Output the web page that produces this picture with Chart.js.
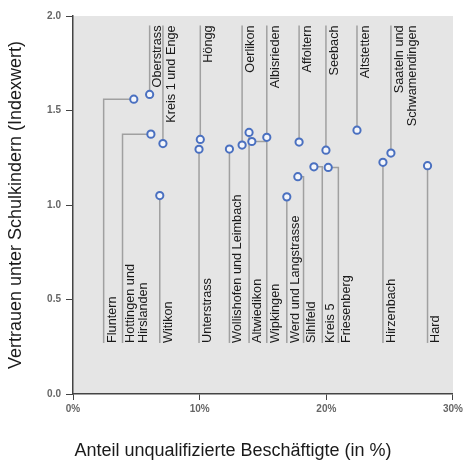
<!DOCTYPE html>
<html>
<head>
<meta charset="utf-8">
<script src="https://cdn.jsdelivr.net/npm/chart.js@4/dist/chart.umd.min.js"></script>
<style>
  html, body { margin: 0; padding: 0; background: #fff; }
  #wrap { width: 466px; height: 463px; }
</style>
</head>
<body>
<div id="wrap"><canvas id="myChart"></canvas></div>
<script>
// Stadtkreise / Quartiere
var names = ['Fluntern', 'Hottingen und\nHirslanden', 'Oberstrass', 'Kreis 1 und Enge', 'Witikon',
  'Höngg', 'Unterstrass', 'Wollishofen und Leimbach', 'Oerlikon', 'Altwiedikon', 'Wipkingen',
  'Albisrieden', 'Werd und Langstrasse', 'Affoltern', 'Sihlfeld', 'Kreis 5', 'Seebach',
  'Friesenberg', 'Altstetten', 'Hirzenbach', 'Saateln und\nSchwamendingen', 'Hard'];
// Anteil unqualifizierte Beschäftigte (in %)
var shareUnskilled = [4.8, 6.15, 6.05, 7.1, 6.85,
  10.05, 9.95, 12.35, 13.35, 13.9, 14.12,
  15.3, 16.88, 17.85, 17.75, 19.02, 19.97,
  20.15, 22.42, 24.47, 25.1, 27.99];
// Vertrauen unter Schulkindern (Indexwert)
var trustIndex = [1.56, 1.375, 1.585, 1.325, 1.05,
  1.347, 1.295, 1.296, 1.317, 1.384, 1.336,
  1.358, 1.043, 1.333, 1.15, 1.202, 1.29,
  1.199, 1.396, 1.226, 1.275, 1.208];
// where the label sits: above or below the cloud
var labelSide = ['bottom', 'bottom', 'top', 'top', 'bottom',
  'top', 'bottom', 'bottom', 'top', 'bottom', 'bottom',
  'top', 'bottom', 'top', 'bottom', 'bottom', 'top',
  'bottom', 'top', 'bottom', 'top', 'bottom'];
// x (in %) of the leader line when it is shifted away from the point
var leaderX = [2.42, 3.91, null, null, null,
  null, null, null, null, null, 15.3,
  null, null, null, 18.2, 19.68, null,
  20.95, null, null, null, null];
var labelTopY = 1.95;
var labelBottomY = 0.27;
var xTitle = 'Anteil unqualifizierte Beschäftigte (in %)';
var yTitle = 'Vertrauen unter Schulkindern (Indexwert)';

var bgPlugin = {
  id: 'bg',
  beforeDraw: function (chart) {
    var a = chart.chartArea, ctx = chart.ctx;
    ctx.save();
    ctx.fillStyle = '#e5e5e5';
    ctx.fillRect(a.left, a.top, a.right - a.left, a.bottom - a.top);
    ctx.restore();
  },
  afterDraw: function (chart) {
    // x title is centred on the whole figure, not on the plot area
    var ctx = chart.ctx;
    ctx.save();
    ctx.fillStyle = '#1a1a1a';
    ctx.font = '18px "Liberation Sans", Arial, sans-serif';
    ctx.textAlign = 'center';
    ctx.textBaseline = 'middle';
    ctx.fillText(xTitle, chart.width / 2, 451);
    ctx.restore();
  }
};

var leaderPlugin = {
  id: 'leaders',
  beforeDatasetsDraw: function (chart) {
    var ctx = chart.ctx, x = chart.scales.x, y = chart.scales.y;
    var yTop = y.getPixelForValue(labelTopY), yBot = y.getPixelForValue(labelBottomY);
    ctx.save();
    names.forEach(function (n, i) {
      var px = x.getPixelForValue(shareUnskilled[i]);
      var py = y.getPixelForValue(trustIndex[i]);
      var lx = x.getPixelForValue(leaderX[i] != null ? leaderX[i] : shareUnskilled[i]);
      var top = labelSide[i] === 'top';
      var ly = top ? yTop : yBot;
      ctx.strokeStyle = '#a0a0a0';
      ctx.lineWidth = 1.5;
      ctx.beginPath();
      ctx.moveTo(px, py);
      ctx.lineTo(lx, py);
      ctx.lineTo(lx, ly);
      ctx.stroke();

      ctx.save();
      ctx.translate(lx, ly);
      ctx.rotate(-Math.PI / 2);
      ctx.fillStyle = '#1a1a1a';
      ctx.font = '12.7px "Liberation Sans", Arial, sans-serif';
      ctx.textBaseline = 'top';
      ctx.textAlign = top ? 'right' : 'left';
      n.split('\n').forEach(function (t, k) {
        ctx.fillText(t, 0, 2 + k * 13);
      });
      ctx.restore();
    });
    ctx.restore();
  }
};

var ctx = document.getElementById('myChart').getContext('2d');
var myChart = new Chart(ctx, {
  type: 'scatter',
  data: {
    datasets: [{
      data: shareUnskilled.map(function (v, i) { return { x: v, y: trustIndex[i] }; }),
      backgroundColor: '#f4f6fb',
      borderColor: '#4a70c0',
      borderWidth: 2,
      pointRadius: 3.6,
      pointHoverRadius: 3.6
    }]
  },
  options: {
    responsive: true,
    maintainAspectRatio: false,
    animation: false,
    layout: { padding: { top: 16, right: 13, left: 0, bottom: 0 } },
    plugins: { legend: { display: false }, tooltip: { enabled: false } },
    scales: {
      x: {
        type: 'linear',
        min: 0,
        max: 30,
        afterFit: function (s) { s.height = 69; },
        grid: { drawOnChartArea: false, drawTicks: true, tickLength: 6, color: '#444' },
        border: { display: true, color: '#444', width: 1.5 },
        ticks: {
          stepSize: 10,
          padding: 3,
          color: '#666',
          font: { family: 'Liberation Sans', size: 10, weight: 'bold' },
          callback: function (v) { return v + '%'; }
        }
      },
      y: {
        min: 0,
        max: 2,
        afterFit: function (s) { s.width = 73; },
        grid: { drawOnChartArea: false, drawTicks: true, tickLength: 7, color: '#444' },
        border: { display: true, color: '#444', width: 1.5 },
        ticks: {
          stepSize: 0.5,
          padding: 5,
          color: '#666',
          font: { family: 'Liberation Sans', size: 10, weight: 'bold' },
          callback: function (v) { return v.toFixed(1); }
        },
        title: {
          display: true,
          text: yTitle,
          color: '#1a1a1a',
          font: { family: 'Liberation Sans', size: 18 },
          padding: { top: 5, bottom: 0 }
        }
      }
    }
  },
  plugins: [bgPlugin, leaderPlugin]
});
</script>
</body>
</html>
